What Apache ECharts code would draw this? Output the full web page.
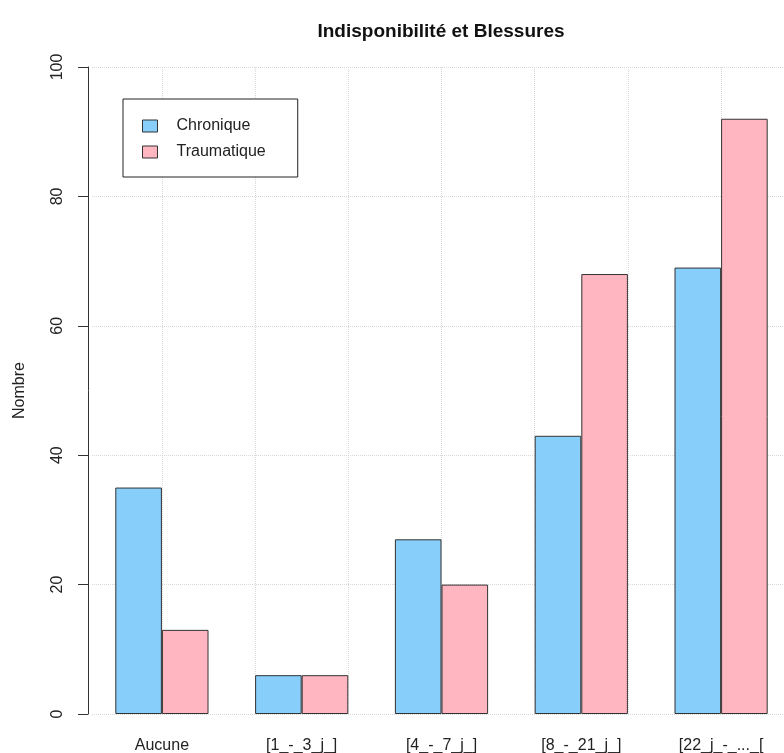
<!DOCTYPE html>
<html>
<head>
<meta charset="utf-8">
<script src="https://cdn.jsdelivr.net/npm/echarts@6/dist/echarts.min.js"></script>
<style>html,body{margin:0;padding:0;background:#fff;}#c{width:784px;height:753px;}</style>
</head>
<body>
<div id="c"></div>
<script>
const categories = ['Aucune', '[1_-_3_j_]', '[4_-_7_j_]', '[8_-_21_j_]', '[22_j_-_..._['];
const chronique = [35, 6, 27, 43, 69];
const traumatique = [13, 6, 20, 68, 92];
const seriesNames = ['Chronique', 'Traumatique'];

// vertical grid positions in bar units (R grid() on barplot: even units)
const vGrid = [];
for (let v = 2; v <= 14; v += 2) vGrid.push(v);

const FONT = '"Liberation Sans", Arial, sans-serif';
const chart = echarts.init(document.getElementById('c'), null, {renderer: 'canvas'});
chart.setOption({
  backgroundColor: '#ffffff',
  animation: false,
  title: {
    text: 'Indisponibilité et Blessures',
    left: 441, top: 22, padding: 0, textAlign: 'center',
    textStyle: {fontFamily: FONT, fontSize: 19, fontWeight: 'bold', color: '#111'}
  },
  legend: {
    orient: 'vertical', left: 123, top: 99,
    padding: [19, 32, 17, 19],
    itemGap: 10, itemWidth: 15, itemHeight: 12,
    icon: 'rect',
    backgroundColor: '#fff', borderColor: '#222', borderWidth: 1,
    textStyle: {fontFamily: FONT, fontSize: 16, color: '#222', padding: [0, 0, 0, 14]},
    itemStyle: {borderColor: '#333', borderWidth: 1},
    data: seriesNames
  },
  grid: {left: 92, top: 67, width: 699, height: 647, containLabel: false, outerBoundsMode: 'none'},
  xAxis: [{
    type: 'category', data: categories,
    axisLine: {show: false}, axisTick: {show: false}, splitLine: {show: false},
    axisLabel: {fontFamily: FONT, fontSize: 16, color: '#222', margin: 24, interval: 0}
  }, {
    type: 'value', min: 0.5, max: 15.5, position: 'bottom',
    axisLine: {show: false}, axisLabel: {show: false},
    axisTick: {show: false, customValues: vGrid},
    splitLine: {show: true, lineStyle: {color: '#d8d8d8', type: 'dotted', width: 1}}
  }],
  yAxis: {
    type: 'value', min: 0, max: 100, interval: 20, offset: 4,
    name: 'Nombre', nameLocation: 'middle', nameRotate: 90, nameGap: 60,
    nameTextStyle: {fontFamily: FONT, fontSize: 16, color: '#222'},
    axisLine: {show: true, lineStyle: {color: '#333', width: 1}},
    axisTick: {show: true, length: 10, lineStyle: {color: '#333'}},
    axisLabel: {rotate: 90, margin: 22, fontFamily: FONT, fontSize: 16, color: '#222'},
    splitLine: {show: true, lineStyle: {color: '#d8d8d8', type: 'dotted', width: 1}}
  },
  series: [{
    name: seriesNames[0], type: 'bar', data: chronique,
    barGap: '0%', barCategoryGap: '33.333%',
    itemStyle: {color: '#87CEFA', borderColor: '#333', borderWidth: 1}
  }, {
    name: seriesNames[1], type: 'bar', data: traumatique,
    barGap: '0%', barCategoryGap: '33.333%',
    itemStyle: {color: '#FFB6C1', borderColor: '#333', borderWidth: 1}
  }]
});
</script>
</body>
</html>
